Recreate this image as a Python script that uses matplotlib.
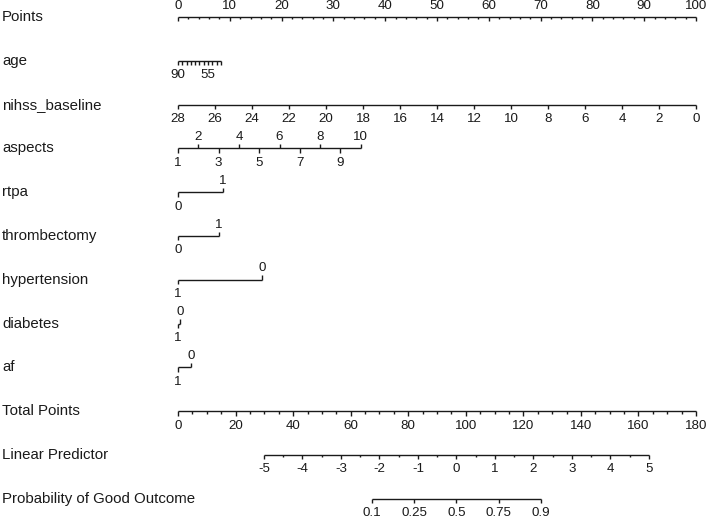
import numpy as np
import matplotlib.pyplot as plt

plt.rcParams["font.family"] = ["Liberation Sans", "DejaVu Sans"]

# row labels, top to bottom
row_names = ["Points", "age", "nihss_baseline", "aspects", "rtpa", "thrombectomy",
             "hypertension", "diabetes", "af", "Total Points", "Linear Predictor",
             "Probability of Good Outcome"]

# points scale
points_ticks = list(range(0, 101, 2))
points_labels = list(range(0, 101, 10))

# predictors: values and the points they get
age_values = [90, 85, 80, 75, 70, 65, 60, 55, 50, 45, 40]
age_points = [0, 0.83, 1.66, 2.49, 3.32, 4.15, 4.98, 5.81, 6.64, 7.47, 8.3]
age_labels = [90, 55]

nihss_values = [28, 26, 24, 22, 20, 18, 16, 14, 12, 10, 8, 6, 4, 2, 0]
nihss_points = [0, 7.14, 14.29, 21.43, 28.57, 35.71, 42.86, 50.0, 57.14, 64.29,
                71.43, 78.57, 85.71, 92.86, 100]

aspects_values = [1, 2, 3, 4, 5, 6, 7, 8, 9, 10]
aspects_points = [0, 3.92, 7.84, 11.76, 15.68, 19.6, 23.52, 27.44, 31.36, 35.3]

rtpa_values = [0, 1]
rtpa_points = [0, 8.7]

thromb_values = [0, 1]
thromb_points = [0, 7.9]

htn_values = [1, 0]
htn_points = [0, 16.2]

diab_values = [1, 0]
diab_points = [0, 0.4]

af_values = [1, 0]
af_points = [0, 2.45]

# total points / linear predictor / probability
total_max = 180
total_ticks = list(range(0, 181, 5))
total_labels = list(range(0, 181, 20))
lp_ticks = [-5, -4.5, -4, -3.5, -3, -2.5, -2, -1.5, -1, -0.5, 0, 0.5, 1, 1.5, 2,
            2.5, 3, 3.5, 4, 4.5, 5]
lp_labels = [-5, -4, -3, -2, -1, 0, 1, 2, 3, 4, 5]
lp_tp_intercept = 96.74   # total points at LP = 0
lp_tp_slope = 13.37       # total points per LP unit
prob_labels = [0.1, 0.25, 0.5, 0.75, 0.9]


def tp_to_x(tp):
    return np.asarray(tp, dtype=float) * 100 / total_max


def lp_to_x(lp):
    return tp_to_x(lp_tp_intercept + lp_tp_slope * np.asarray(lp, dtype=float))


fig = plt.figure(figsize=(7.08, 5.19), dpi=100)
ax = fig.add_axes([0, 0, 1, 1])
ax.set_xlim(-178 / 5.18, (708 - 178) / 5.18)
ax.set_ylim((519 - 17) / 43.8, -17 / 43.8)
ax.axis("off")

lc = "#1a1a1a"
tc = "#1a1a1a"
lw = 1.0
tick_big = 0.1
tick_small = 0.055
lab_below = 0.33
lab_above = 0.26
fs = 9.6

for i, name in enumerate(row_names):
    ax.text(-178 / 5.18 + 0.4, i, name, ha="left", va="center",
            fontsize=10.8, color=tc)


def hline(row, x):
    ax.plot([min(x), max(x)], [row, row], color=lc, lw=lw, solid_capstyle="butt")


def ticks(row, x, length, up=False):
    sign = -1 if up else 1
    for xi in np.atleast_1d(x):
        ax.plot([xi, xi], [row, row + sign * length], color=lc, lw=lw,
                solid_capstyle="butt")


def labels(row, x, txt, above=False):
    dy = -lab_above if above else lab_below
    for xi, t in zip(np.atleast_1d(x), txt):
        ax.text(xi, row + dy, str(t), ha="center", va="center", fontsize=fs,
                color=tc)


# Points
hline(0, points_ticks)
minor = [p for p in points_ticks if p % 10 != 0]
ticks(0, minor, tick_small)
ticks(0, points_labels, tick_big)
labels(0, points_labels, points_labels, above=True)

# age
hline(1, age_points)
ticks(1, age_points, tick_big)
age_x = [age_points[age_values.index(v)] for v in age_labels]
labels(1, age_x, age_labels)

# nihss
hline(2, nihss_points)
ticks(2, nihss_points, tick_big)
labels(2, nihss_points, nihss_values)

# aspects: odd values below, even above
hline(3, aspects_points)
odd = [(p, v) for p, v in zip(aspects_points, aspects_values) if v % 2 == 1]
even = [(p, v) for p, v in zip(aspects_points, aspects_values) if v % 2 == 0]
ticks(3, [p for p, _ in odd], tick_big)
labels(3, [p for p, _ in odd], [v for _, v in odd])
ticks(3, [p for p, _ in even], tick_big, up=True)
labels(3, [p for p, _ in even], [v for _, v in even], above=True)

# binary variables: first level below, second above
for row, vals, pts in [(4, rtpa_values, rtpa_points),
                       (5, thromb_values, thromb_points),
                       (6, htn_values, htn_points),
                       (7, diab_values, diab_points),
                       (8, af_values, af_points)]:
    hline(row, pts)
    ticks(row, pts[0], tick_big)
    labels(row, [pts[0]], [vals[0]])
    ticks(row, pts[1], tick_big, up=True)
    labels(row, [pts[1]], [vals[1]], above=True)

# Total Points
tx = tp_to_x(total_ticks)
hline(9, tx)
ticks(9, [tp_to_x(t) for t in total_ticks if t % 20 != 0], tick_small)
ticks(9, tp_to_x(total_labels), tick_big)
labels(9, tp_to_x(total_labels), total_labels)

# Linear Predictor
hline(10, lp_to_x(lp_ticks))
ticks(10, lp_to_x([t for t in lp_ticks if t not in lp_labels]), tick_small)
ticks(10, lp_to_x(lp_labels), tick_big)
labels(10, lp_to_x(lp_labels), lp_labels)

# Probability
prob_lp = [np.log(p / (1 - p)) for p in prob_labels]
hline(11, lp_to_x(prob_lp))
ticks(11, lp_to_x(prob_lp), tick_big)
labels(11, lp_to_x(prob_lp), prob_labels)

fig.savefig("out.png", dpi=100)
